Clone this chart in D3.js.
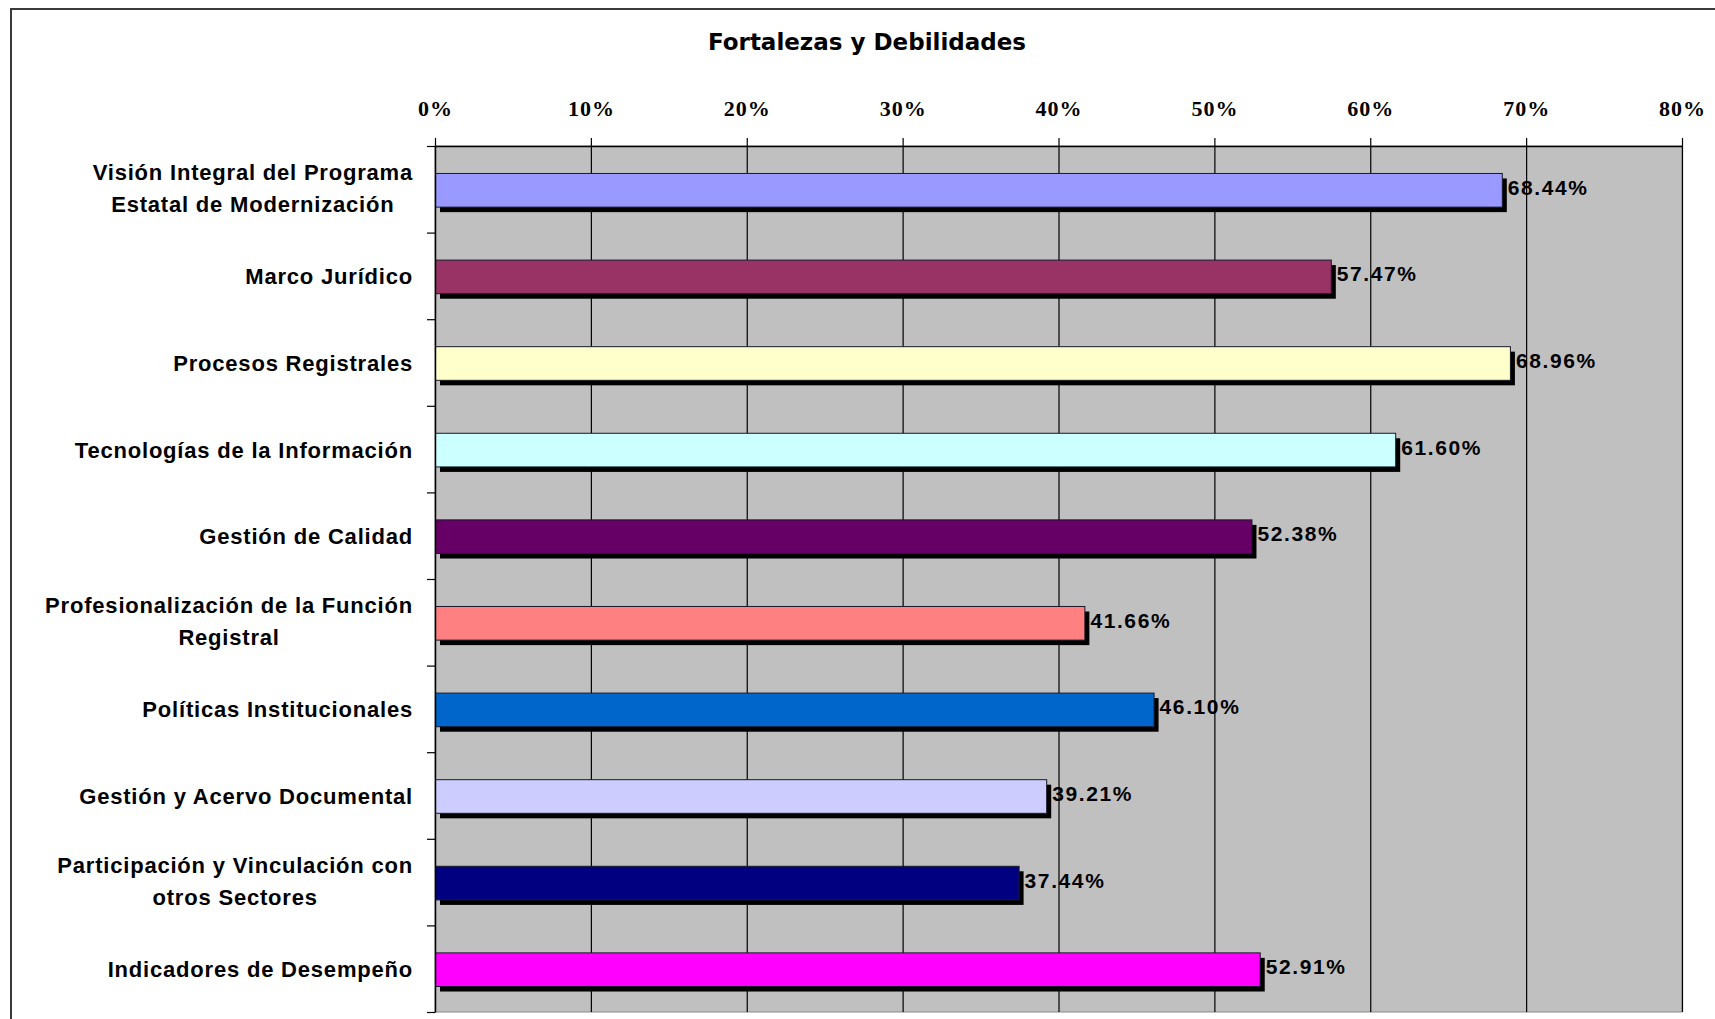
<!DOCTYPE html>
<html>
<head>
<meta charset="utf-8">
<script src="https://cdn.jsdelivr.net/npm/d3@7/dist/d3.min.js"></script>
<style>
  html, body { margin: 0; padding: 0; background: #fff; }
  svg { display: block; }
</style>
</head>
<body>
<svg id="chart" width="1715" height="1019"></svg>
<script>
// Evaluation areas (line breaks mark wrapped labels)
const categories = [
  "Visión Integral del Programa\nEstatal de Modernización",
  "Marco Jurídico",
  "Procesos Registrales",
  "Tecnologías de la Información",
  "Gestión de Calidad",
  "Profesionalización de la Función\nRegistral",
  "Políticas Institucionales",
  "Gestión y Acervo Documental",
  "Participación y Vinculación con\notros Sectores",
  "Indicadores de Desempeño"
];

// Score per area, in percent
const values = [68.44, 57.47, 68.96, 61.60, 52.38, 41.66, 46.10, 39.21, 37.44, 52.91];

// One fill per area
const barColors = [
  "#9999FF", "#993366", "#FFFFCC", "#CCFFFF", "#660066",
  "#FF8080", "#0066CC", "#CCCCFF", "#000080", "#FF00FF"
];

// Percentage axis ticks
const xTicks = [0, 10, 20, 30, 40, 50, 60, 70, 80];

const title = "Fortalezas y Debilidades";

const svg = d3.select("#chart");

const plot = { left: 435, right: 1682, top: 146, bottom: 1012 };

// Chart frame (left and top edges)
svg.append("path")
  .attr("d", "M11,1019 V9 H1715")
  .attr("fill", "none")
  .attr("stroke", "#3a3a3a")
  .attr("stroke-width", 2);

// Title
svg.append("text")
  .attr("x", 867)
  .attr("y", 50)
  .attr("text-anchor", "middle")
  .attr("font-family", "'DejaVu Sans', sans-serif")
  .attr("font-weight", "bold")
  .attr("font-size", 23)
  .attr("fill", "#000")
  .text(title);

const x = d3.scaleLinear()
  .domain([0, 80])
  .range([plot.left, plot.right]);

const y = d3.scaleBand()
  .domain(categories)
  .range([plot.top, plot.bottom])
  .paddingInner(0.6)
  .paddingOuter(0.3);

const yIdx = d3.scaleLinear()
  .domain([0, categories.length])
  .range([plot.top, plot.bottom]);

// Plot background
svg.append("rect")
  .attr("x", plot.left)
  .attr("y", plot.top)
  .attr("width", plot.right - plot.left)
  .attr("height", plot.bottom - plot.top)
  .attr("fill", "#C0C0C0")
  .attr("stroke", "#8a8a8a")
  .attr("stroke-width", 1);

// Vertical gridlines
svg.append("g")
  .selectAll("line")
  .data(xTicks.filter(d => d > 0))
  .join("line")
  .attr("x1", d => x(d) + 0.5)
  .attr("x2", d => x(d) + 0.5)
  .attr("y1", plot.top)
  .attr("y2", plot.bottom)
  .attr("stroke", "#000")
  .attr("stroke-width", 1.2);

// Bar shadows
const shadowOffset = 5;
svg.append("g")
  .selectAll("rect")
  .data(values)
  .join("rect")
  .attr("x", x(0) + shadowOffset)
  .attr("y", (d, i) => y(categories[i]) + 1.5 + shadowOffset)
  .attr("width", d => x(d) - x(0))
  .attr("height", y.bandwidth() - 1)
  .attr("fill", "#000");

// Bars
svg.append("g")
  .selectAll("rect")
  .data(values)
  .join("rect")
  .attr("x", x(0) + 0.5)
  .attr("y", (d, i) => y(categories[i]) + 1.5)
  .attr("width", d => x(d) - x(0))
  .attr("height", y.bandwidth() - 1)
  .attr("fill", (d, i) => barColors[i])
  .attr("stroke", "#1a1a2a")
  .attr("stroke-width", 1);

// Value labels
svg.append("g")
  .selectAll("text")
  .data(values)
  .join("text")
  .attr("x", d => x(d) + shadowOffset + 1)
  .attr("y", (d, i) => y(categories[i]) + y.bandwidth() / 2 + 5.5)
  .attr("font-family", "'Liberation Sans', Arial, sans-serif")
  .attr("font-weight", "bold")
  .attr("font-size", 21)
  .attr("letter-spacing", 1.6)
  .attr("fill", "#000")
  .text(d => d.toFixed(2) + "%");

// Top percentage axis
const xAxis = svg.append("g")
  .attr("transform", `translate(0,${plot.top})`)
  .call(d3.axisTop(x).tickValues(xTicks).tickFormat(d => d + "%").tickSizeInner(8).tickSizeOuter(0));
xAxis.select(".domain").attr("stroke", "#000").attr("stroke-width", 1.5);
xAxis.selectAll(".tick line").attr("stroke", "#000").attr("stroke-width", 1.2);
xAxis.selectAll(".tick text")
  .attr("y", -30)
  .attr("dy", 0)
  .attr("font-family", "'Liberation Serif', 'Times New Roman', serif")
  .attr("font-weight", "bold")
  .attr("font-size", 22)
  .attr("letter-spacing", 1)
  .attr("fill", "#000");

// Left category axis: ticks at band boundaries
const yAxis = svg.append("g")
  .attr("transform", `translate(${plot.left},0)`)
  .call(d3.axisLeft(yIdx).tickValues(d3.range(categories.length + 1)).tickFormat("").tickSizeInner(8).tickSizeOuter(0));
yAxis.select(".domain").attr("stroke", "#000").attr("stroke-width", 1.5);
yAxis.selectAll(".tick line").attr("stroke", "#000").attr("stroke-width", 1.2);

// Category labels, right-aligned block with centred lines
const labelRight = 413;
const labelFont = "'Liberation Sans', Arial, sans-serif";
const catG = svg.append("g");
categories.forEach(cat => {
  const lines = cat.split("\n");
  const c = y(cat) + y.bandwidth() / 2;
  const t = catG.append("text")
    .attr("font-family", labelFont)
    .attr("font-weight", "bold")
    .attr("font-size", 22)
    .attr("letter-spacing", 0.8)
    .attr("fill", "#000");
  if (lines.length === 1) {
    t.attr("text-anchor", "end")
      .attr("x", labelRight)
      .attr("y", c + 8.5)
      .text(lines[0]);
  } else {
    const spans = t.selectAll("tspan")
      .data(lines)
      .join("tspan")
      .attr("y", (d, i) => c - 9 + i * 32)
      .text(d => d);
    let maxW = 0;
    spans.each(function () { maxW = Math.max(maxW, this.getComputedTextLength()); });
    t.attr("text-anchor", "middle");
    spans.attr("x", labelRight - maxW / 2);
  }
});
</script>
</body>
</html>
